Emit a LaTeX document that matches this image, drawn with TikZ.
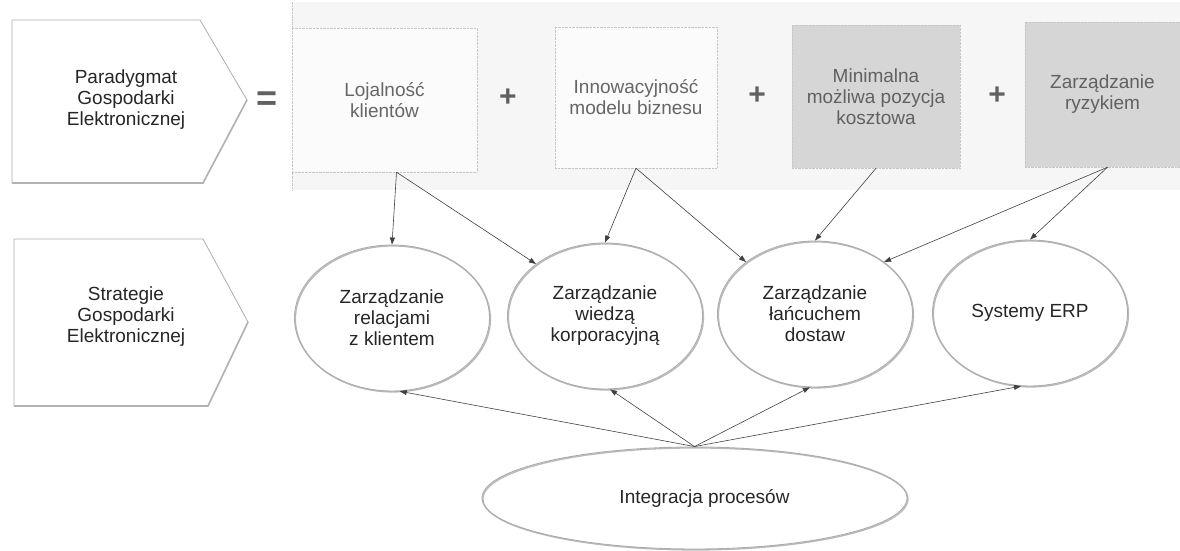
\documentclass[tikz,border=0pt]{standalone}
\usepackage{fontspec}
\setmainfont{Liberation Sans}
\usepackage{tikz}
\usetikzlibrary{shapes.geometric, arrows.meta, positioning}

\tikzset{
    txt/.style={align=center, font=\fontsize{19}{21}\selectfont},
    label/.style={txt, text=black!85},
    factor/.style={txt, draw=gray!45, densely dotted, text=black!60, inner sep=0pt},
    cost/.style={factor, fill=gray!32, text=black!62},
    strategy/.style={txt, ellipse, draw=gray!65, line width=0.9pt, text=black!85,
        minimum width=195pt, minimum height=146pt, inner sep=0pt,
        preaction={draw=gray!55, line width=1.4pt, transform canvas={shift={(0.9pt,-0.9pt)}}}},
    sign/.style={font=\fontsize{30}{30}\bfseries, text=black!62, inner sep=0pt},
    flow/.style={draw=black!75, line width=0.6pt, -{Triangle[length=7pt,width=5pt]}},
    edge/.style={draw=gray!65, line width=0.8pt},
    shade/.style={draw=gray!60, line width=1.6pt}
}

\begin{document}
\begin{tikzpicture}[x=1pt, y=-1pt]
    \useasboundingbox (0,0) rectangle (1180,550);

    % tlo
    \fill[gray!7] (292,2) rectangle (1180,190);
    \draw[gray!45, densely dotted] (292,2) -- (292,190);

    % lewe strzalki
    \draw[edge] (12,20) -- (200,20) -- (247,100) -- (203,183) -- (12,183) -- cycle;
    \draw[shade] (247,100) -- (203,183) -- (12,183);
    \node[label] (par) at (126,100) {Paradygmat\\Gospodarki\\Elektronicznej};

    \draw[edge] (14,239) -- (203,239) -- (248,322) -- (208,406) -- (14,406) -- cycle;
    \draw[shade] (248,322) -- (208,406) -- (14,406);
    \node[label] (str) at (126,317) {Strategie\\Gospodarki\\Elektronicznej};

    \node[sign, font=\fontsize{36}{36}\bfseries] (eq) at (267,101) {=};

    % czynniki
    \node[factor, fill=gray!3, minimum width=185pt, minimum height=144pt] (loj) at (384.5,100) {Lojalność\\klientów};
    \node[sign] (p1) at (508,98) {+};
    \node[factor, fill=gray!3, minimum width=162pt, minimum height=141pt] (inn) at (636,97.5) {Innowacyjność\\modelu biznesu};
    \node[sign] (p2) at (757,96) {+};
    \node[cost, minimum width=168pt, minimum height=143pt] (min) at (876,96.5) {Minimalna\\możliwa pozycja\\kosztowa};
    \node[sign] (p3) at (997,96) {+};
    \node[cost, minimum width=155pt, minimum height=145pt] (ryz) at (1102.5,94.5) {Zarządzanie\\ryzykiem};

    % strategie
    \node[strategy] (crm) at (392,318) {Zarządzanie\\relacjami\\z klientem};
    \node[strategy] (km) at (605,316) {Zarządzanie\\wiedzą\\korporacyjną};
    \node[strategy] (scm) at (815,314) {Zarządzanie\\łańcuchem\\dostaw};
    \node[strategy] (erp) at (1030,313) {Systemy ERP};

    \node[strategy, minimum width=425pt, minimum height=102pt] (integ) at (694.5,498) {\hspace{20pt}Integracja procesów};

    % powiazania
    \draw[flow] ([xshift=12pt]loj.south) -- (crm.north);
    \draw[flow] ([xshift=12pt]loj.south) -- (km.143);
    \draw[flow] (inn.south) -- (km.north);
    \draw[flow] (inn.south) -- (scm.143);
    \draw[flow] (min.south) -- (scm.north);
    \draw[flow] ([xshift=5pt]ryz.south) -- (scm.37);
    \draw[flow] ([xshift=5pt]ryz.south) -- (erp.north);

    \draw[flow] (integ.north) -- (crm.-84);
    \draw[flow] (integ.north) -- (km.-86);
    \draw[flow] (integ.north) -- (scm.-94);
    \draw[flow] (integ.north) -- (erp.-97);
\end{tikzpicture}
\end{document}
